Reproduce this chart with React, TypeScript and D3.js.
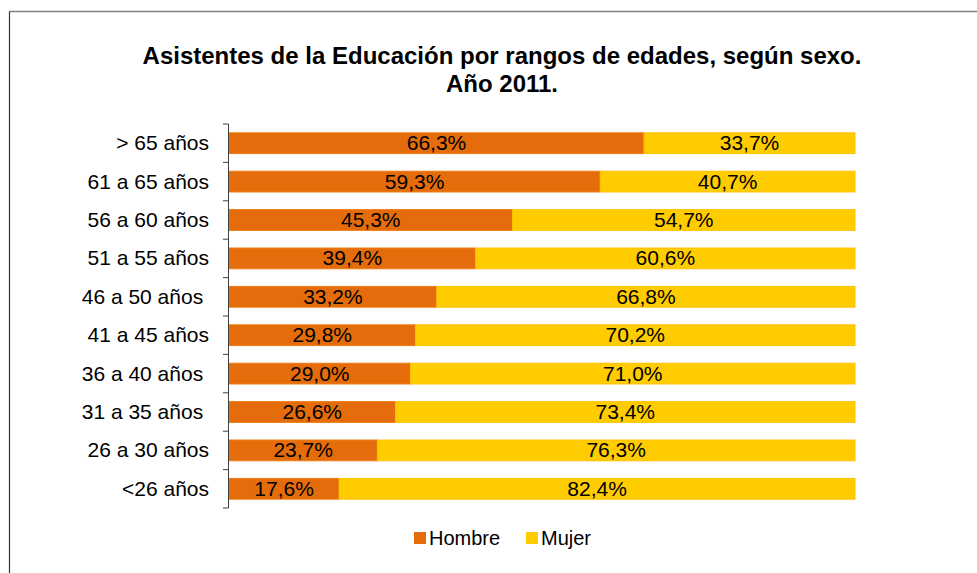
import React from "react";
import * as d3 from "d3";

const categories = [
  "> 65 años",
  "61 a 65 años",
  "56 a 60 años",
  "51 a 55 años",
  "46 a 50 años ",
  "41 a 45 años",
  "36 a 40 años ",
  "31 a 35 años ",
  "26 a 30 años",
  "<26 años",
];
const hombre = [66.3, 59.3, 45.3, 39.4, 33.2, 29.8, 29.0, 26.6, 23.7, 17.6];
const mujer = [33.7, 40.7, 54.7, 60.6, 66.8, 70.2, 71.0, 73.4, 76.3, 82.4];
const seriesNames = ["Hombre", "Mujer"];
const colors = ["#E46C0A", "#FFCC00"];
const strokes = ["#F07A10", "#FFC000"];
const titleLines = [
  "Asistentes de la Educación por rangos de edades, según sexo.",
  "Año 2011.",
];

const W = 977;
const H = 573;
const font = "'Liberation Sans', Arial, sans-serif";

export default function App() {
  const x = d3.scaleLinear().domain([0, 100]).range([229, 855]);
  const y = d3.scaleBand().domain(categories).range([124, 508]).paddingInner(0.46).paddingOuter(0.23);
  const fmt = (v: number) => v.toFixed(1).replace(".", ",") + "%";
  const rows = categories.map((c, i) => ({ c, h: hombre[i], m: mujer[i] }));
  const bw = y.bandwidth();
  const bandEdges = d3.range(categories.length + 1).map((i) => 124 + (i * (508 - 124)) / categories.length);

  return (
    <svg width={W} height={H} style={{ position: "absolute", left: 0, top: 0, display: "block" }} fontFamily={font}>
      <rect x={0} y={0} width={W} height={H} fill="#fff" />
      <line x1={9.5} y1={11.5} x2={W} y2={11.5} stroke="#808080" strokeWidth={1.5} />
      <line x1={9.5} y1={11.5} x2={9.5} y2={H} stroke="#333" strokeWidth={1.2} />
      {titleLines.map((t, i) => (
        <text key={i} x={502} y={64 + i * 28} textAnchor="middle" fontSize={24} fontWeight="bold" fill="#000">
          {t}
        </text>
      ))}
      {rows.map((r) => {
        const yy = y(r.c)!;
        const xm = x(r.h);
        return (
          <g key={r.c}>
            <rect x={x(0)} y={yy} width={xm - x(0)} height={bw} fill={colors[0]} stroke={strokes[0]} strokeWidth={1} />
            <rect x={xm} y={yy} width={x(100) - xm} height={bw} fill={colors[1]} stroke={strokes[1]} strokeWidth={1} />
            <text x={(x(0) + xm) / 2} y={yy + bw / 2 + 7} textAnchor="middle" fontSize={21} fill="#000">
              {fmt(r.h)}
            </text>
            <text x={(xm + x(100)) / 2} y={yy + bw / 2 + 7} textAnchor="middle" fontSize={21} fill="#000">
              {fmt(r.m)}
            </text>
            <text x={209} y={yy + bw / 2 + 7} textAnchor="end" fontSize={21} fill="#000" style={{ whiteSpace: "pre" }}>
              {r.c}
            </text>
          </g>
        );
      })}
      <line x1={228.5} y1={124} x2={228.5} y2={508} stroke="#404040" strokeWidth={1} />
      {bandEdges.map((e, i) => (
        <line key={i} x1={223} x2={228.5} y1={e} y2={e} stroke="#404040" strokeWidth={1} />
      ))}
      {seriesNames.map((s, i) => {
        const lx = i === 0 ? 414 : 526;
        return (
          <g key={s}>
            <rect x={lx} y={532} width={12} height={12} fill={colors[i]} />
            <text x={lx + 15} y={545} fontSize={20} fill="#000">
              {s}
            </text>
          </g>
        );
      })}
    </svg>
  );
}
